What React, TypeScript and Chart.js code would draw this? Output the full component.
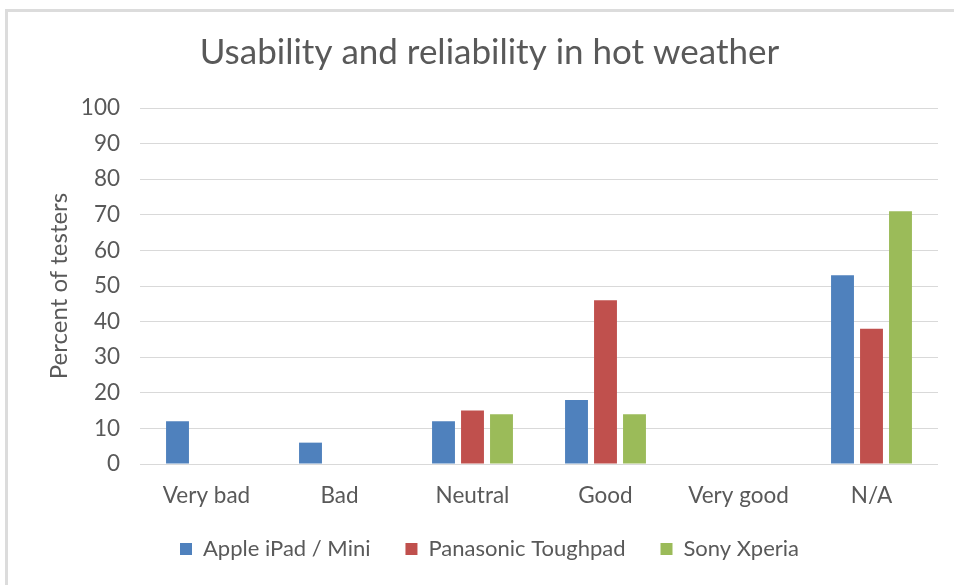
import React, { useEffect, useRef } from "react";
import { Chart, registerables } from "chart.js";

Chart.register(...registerables);

const categories = ["Very bad", "Bad", "Neutral", "Good", "Very good", "N/A"];
const appleValues = [12, 6, 12, 18, 0, 53];
const panasonicValues = [0, 0, 15, 46, 0, 38];
const sonyValues = [0, 0, 14, 14, 0, 71];
const seriesNames = ["Apple iPad / Mini", "Panasonic Toughpad", "Sony Xperia"];
const seriesColors = ["#4F81BD", "#C0504D", "#9BBB59"];
const titleText = "Usability and reliability in hot weather";
const yTitle = "Percent of testers";

const FONT = "Lato, 'Open Sans', sans-serif";
const TEXT = "#595959";

const unclipXLabels = {
  id: "unclipXLabels",
  afterLayout(chart: any) {
    const x = chart.scales.x;
    if (x) x.bottom = chart.height;
  },
};

export default function App() {
  const ref = useRef<HTMLCanvasElement | null>(null);
  useEffect(() => {
    if (!ref.current) return;
    const chart = new Chart(ref.current, {
      type: "bar",
      data: {
        labels: categories,
        datasets: [appleValues, panasonicValues, sonyValues].map((d, i) => ({
          label: seriesNames[i],
          data: d,
          backgroundColor: seriesColors[i],
          borderWidth: 0,
          categoryPercentage: 0.654,
          barPercentage: 0.79,
        })),
      },
      plugins: [unclipXLabels],
      options: {
        animation: false,
        responsive: true,
        maintainAspectRatio: false,
        layout: { padding: { left: 41, right: 16, top: 32, bottom: 15 } },
        plugins: {
          title: {
            display: true,
            text: titleText,
            color: TEXT,
            font: { family: FONT, size: 35, weight: "normal" },
            padding: { top: 0, bottom: 34 },
          },
          legend: {
            position: "bottom",
            labels: {
              color: TEXT,
              font: { family: FONT, size: 22 },
              boxWidth: 12,
              boxHeight: 12,
              padding: 35,
            },
          },
          tooltip: { enabled: false },
        },
        scales: {
          x: {
            grid: { display: false, drawTicks: false },
            border: { display: false },
            ticks: { color: TEXT, font: { family: FONT, size: 22.5 }, padding: 18.5 },
            afterFit: (scale: any) => {
              scale.height = 39;
            },
          },
          y: {
            min: 0,
            max: 100,
            ticks: { stepSize: 10, color: TEXT, font: { family: FONT, size: 22.5 }, padding: 20 },
            grid: { color: "#d9d9d9", drawTicks: false },
            border: { display: false },
            title: {
              display: true,
              text: yTitle,
              color: TEXT,
              font: { family: FONT, size: 24 },
            },
            afterFit: (scale: any) => {
              scale.width = 99;
            },
          },
        },
      },
    });
    return () => chart.destroy();
  }, []);
  return (
    <div style={{ position: "absolute", left: 0, top: 0, width: 954, height: 585, background: "#fff", overflow: "hidden" }}>
      <div
        style={{
          position: "absolute",
          left: 5,
          top: 9,
          width: 1000,
          height: 700,
          borderTop: "3px solid #dcdcdc",
          borderLeft: "3px solid #dcdcdc",
        }}
      />
      <canvas ref={ref} style={{ position: "absolute", left: 0, top: 0 }} />
      <div style={{ position: "absolute", left: 0, top: 0, width: 954, height: 585 }} />
    </div>
  );
}
